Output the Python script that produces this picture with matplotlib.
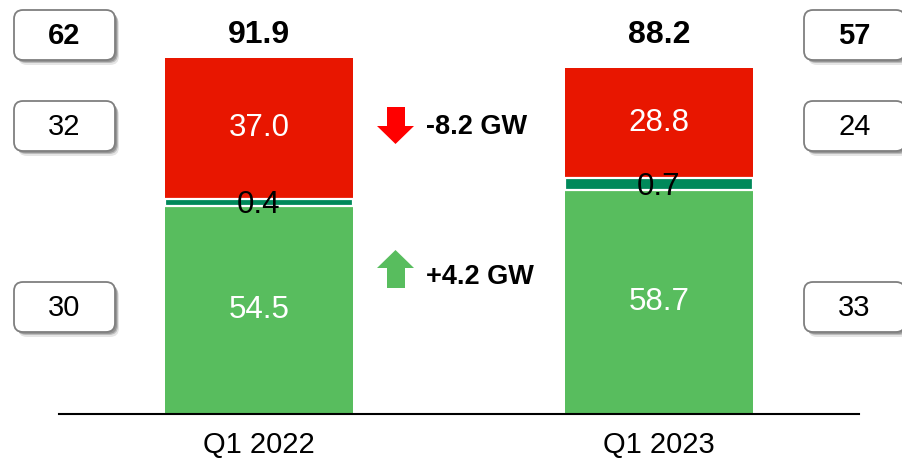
import matplotlib
matplotlib.use("Agg")
import matplotlib.pyplot as plt
from matplotlib.patches import FancyBboxPatch, Polygon

plt.rcParams['font.family'] = ['Liberation Sans', 'DejaVu Sans']

# data
categories = ["Q1 2022", "Q1 2023"]
green_vals = [54.5, 58.7]
mid_vals = [0.4, 0.7]
red_vals = [37.0, 28.8]
totals = [91.9, 88.2]
left_boxes = [62, 32, 30]
right_boxes = [57, 24, 33]

RED = "#E81600"
GREEN = "#58BD5E"
DARK_GREEN = "#00895A"
MID_STRETCH = 4.5   # thin layer drawn thicker so it stays visible

W, H = 903, 461
fig = plt.figure(figsize=(W / 100, H / 100), dpi=100)

# main axes, positioned in pixels
ax = fig.add_axes([59 / W, 47 / H, 800 / W, 414 / H])
x = list(range(len(categories)))
mid_draw = [v * MID_STRETCH for v in mid_vals]
ax.bar(x, green_vals, width=0.47, color=GREEN, zorder=2)
ax.bar(x, mid_draw, width=0.47, bottom=green_vals, color=DARK_GREEN,
       edgecolor="white", linewidth=1.6, zorder=3)
red_bottom = [g + m for g, m in zip(green_vals, mid_draw)]
ax.bar(x, red_vals, width=0.47, bottom=red_bottom, color=RED, zorder=2)

ax.set_xlim(-0.5, 1.5)
ax.set_ylim(0, 108.4)
for s in ["top", "right", "left"]:
    ax.spines[s].set_visible(False)
ax.spines["bottom"].set_linewidth(1.5)
ax.set_yticks([])
ax.set_xticks(x)
ax.set_xticklabels(categories, fontsize=21)
ax.tick_params(axis="x", length=0, pad=12)

# segment labels
for i in x:
    ax.text(i, green_vals[i] / 2, f"{green_vals[i]:.1f}", ha="center", va="center",
            color="white", fontsize=22.5, zorder=5)
    ax.text(i, green_vals[i] + mid_draw[i] / 2 - 0.8, f"{mid_vals[i]:.1f}", ha="center",
            va="center", color="black", fontsize=22.5, zorder=5)
    ax.text(i, red_bottom[i] + red_vals[i] / 2, f"{red_vals[i]:.1f}", ha="center",
            va="center", color="white", fontsize=22.5, zorder=5)

# overlay in pixel coordinates for boxes, arrows and annotations
ov = fig.add_axes([0, 0, 1, 1], zorder=10)
ov.set_xlim(0, W)
ov.set_ylim(H, 0)
ov.axis("off")
ov.patch.set_visible(False)

bar_px = [259, 659.5]
for i in x:
    ov.text(bar_px[i], 43, f"{totals[i]:.1f}", ha="center", va="baseline",
            fontsize=23, fontweight="bold")


def box(x0, y0, val, bold):
    w, h = 101, 50
    for dx, dy, a in [(4, 5, 0.10), (3, 3, 0.18), (2, 2, 0.2)]:
        ov.add_patch(FancyBboxPatch((x0 + dx, y0 + dy), w, h,
                                    boxstyle="round,pad=0,rounding_size=9",
                                    facecolor="black", edgecolor="none", alpha=a))
    ov.add_patch(FancyBboxPatch((x0, y0), w, h, boxstyle="round,pad=0,rounding_size=9",
                                facecolor="white", edgecolor="#7f7f7f", linewidth=1.3))
    ov.text(x0 + w / 2, y0 + h / 2 + 1, str(val), ha="center", va="center",
            fontsize=21, fontweight="bold" if bold else "normal")


box_y = [10, 101, 282]
for j, v in enumerate(left_boxes):
    box(14, box_y[j], v, j == 0)
for j, v in enumerate(right_boxes):
    box(804, box_y[j], v, j == 0)

# change arrows
red_change = red_vals[1] - red_vals[0]
green_change = green_vals[1] - green_vals[0]
ov.add_patch(Polygon([(387, 107), (405, 107), (405, 126), (414, 126), (395.5, 144),
                      (377, 126), (387, 126)], closed=True, facecolor="#FF0000",
                     edgecolor="none"))
ov.add_patch(Polygon([(387, 288), (405, 288), (405, 268), (414, 268), (395.5, 250),
                      (377, 268), (387, 268)], closed=True, facecolor=GREEN,
                     edgecolor="none"))
ov.text(426, 127, f"{red_change:+.1f} GW", ha="left", va="center", fontsize=19.5,
        fontweight="bold")
ov.text(426, 277, f"{green_change:+.1f} GW", ha="left", va="center", fontsize=19.5,
        fontweight="bold")

plt.savefig("out.png", dpi=100)
